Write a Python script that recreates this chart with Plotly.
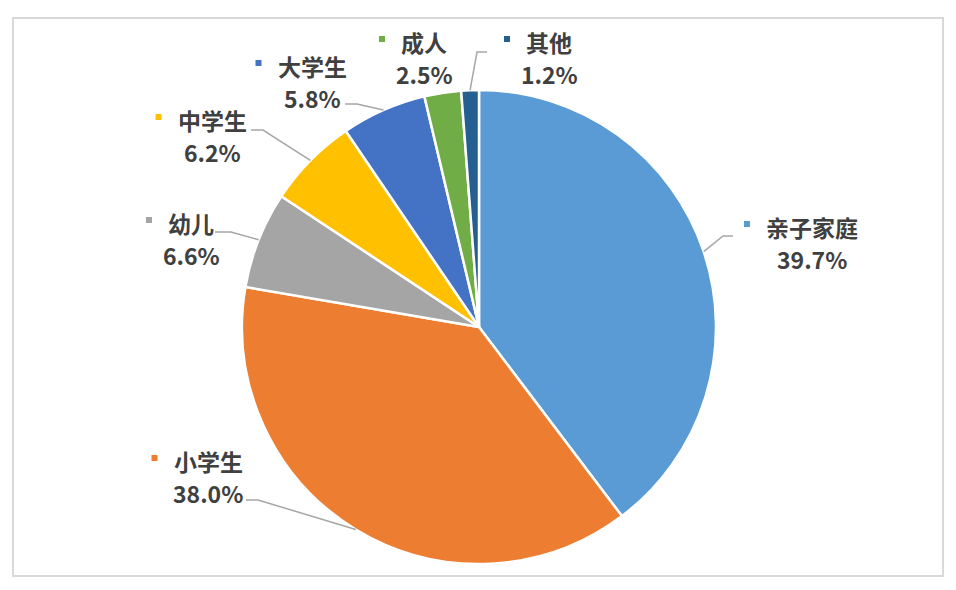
import math
import plotly.graph_objects as go

labels = ["亲子家庭", "小学生", "幼儿", "中学生", "大学生", "成人", "其他"]
values = [39.7, 38.0, 6.6, 6.2, 5.8, 2.5, 1.2]
colors = ["#5B9BD5", "#ED7D31", "#A5A5A5", "#FFC000", "#4472C4", "#70AD47", "#255E91"]

W, H = 956, 590
PAGE = 8  # body margin of the html page
CX, CY, R = 479, 327, 237
FS = 23
FONT = "Noto Sans CJK SC"

# label block centres in px, leader line (start point, elbow x) in px
label_pos = [(812, 243), (208, 477), (191, 239), (212, 136), (312, 82), (424, 58), (549, 58)]
leaders = [((733, 236), 723), ((246, 500), 258), ((215, 232), 231), ((251, 130), 263),
           ((345, 104), 357), None, ((487, 52), 477)]


def px(x):
    return (x - PAGE) / W


def py(y):
    return 1 - (y - PAGE) / H


fig = go.Figure(go.Pie(
    labels=labels, values=values, sort=False, direction="clockwise", rotation=0,
    marker=dict(colors=colors, line=dict(color="white", width=2.5)),
    textinfo="none", hoverinfo="label+percent", showlegend=False,
    domain=dict(x=[px(CX - R), px(CX + R)], y=[py(CY + R), py(CY - R)]),
))

shapes = []
annotations = []
total = sum(values)
cum = 0
for lab, val, col, (lx, ly), ld in zip(labels, values, colors, label_pos, leaders):
    mid = (cum + val / 2) / total * 2 * math.pi
    cum += val
    ex = CX + R * math.sin(mid)
    ey = CY - R * math.cos(mid)
    # two lines: name, then percentage
    for txt, dy in ((lab, -16), (f"{val:.1f}%", 16)):
        annotations.append(dict(
            x=px(lx), y=py(ly + dy), xref="paper", yref="paper", showarrow=False,
            text=txt, xanchor="center", yanchor="middle", borderpad=0,
            font=dict(family=FONT, size=FS, color="#404040", weight="bold"),
        ))
    mx = lx - len(lab) * FS / 2 - 19
    my = ly - 19
    shapes.append(dict(type="rect", xref="paper", yref="paper",
                       x0=px(mx - 3), x1=px(mx + 3), y0=py(my + 3), y1=py(my - 3),
                       fillcolor=col, line=dict(width=0)))
    if ld:
        (sx, sy), bx = ld
        shapes.append(dict(type="path", xref="paper", yref="paper",
                           path=f"M {px(sx)} {py(sy)} L {px(bx)} {py(sy)} L {px(ex)} {py(ey)}",
                           line=dict(color="#A6A6A6", width=1.5)))

# chart border
shapes.append(dict(type="rect", xref="paper", yref="paper",
                   x0=px(13), x1=px(943), y0=py(576), y1=py(18),
                   line=dict(color="#D9D9D9", width=2)))

fig.update_layout(
    width=W, height=H, margin=dict(l=0, r=0, t=0, b=0),
    paper_bgcolor="white", plot_bgcolor="white",
    shapes=shapes, annotations=annotations,
)

fig.write_html("out.html")
